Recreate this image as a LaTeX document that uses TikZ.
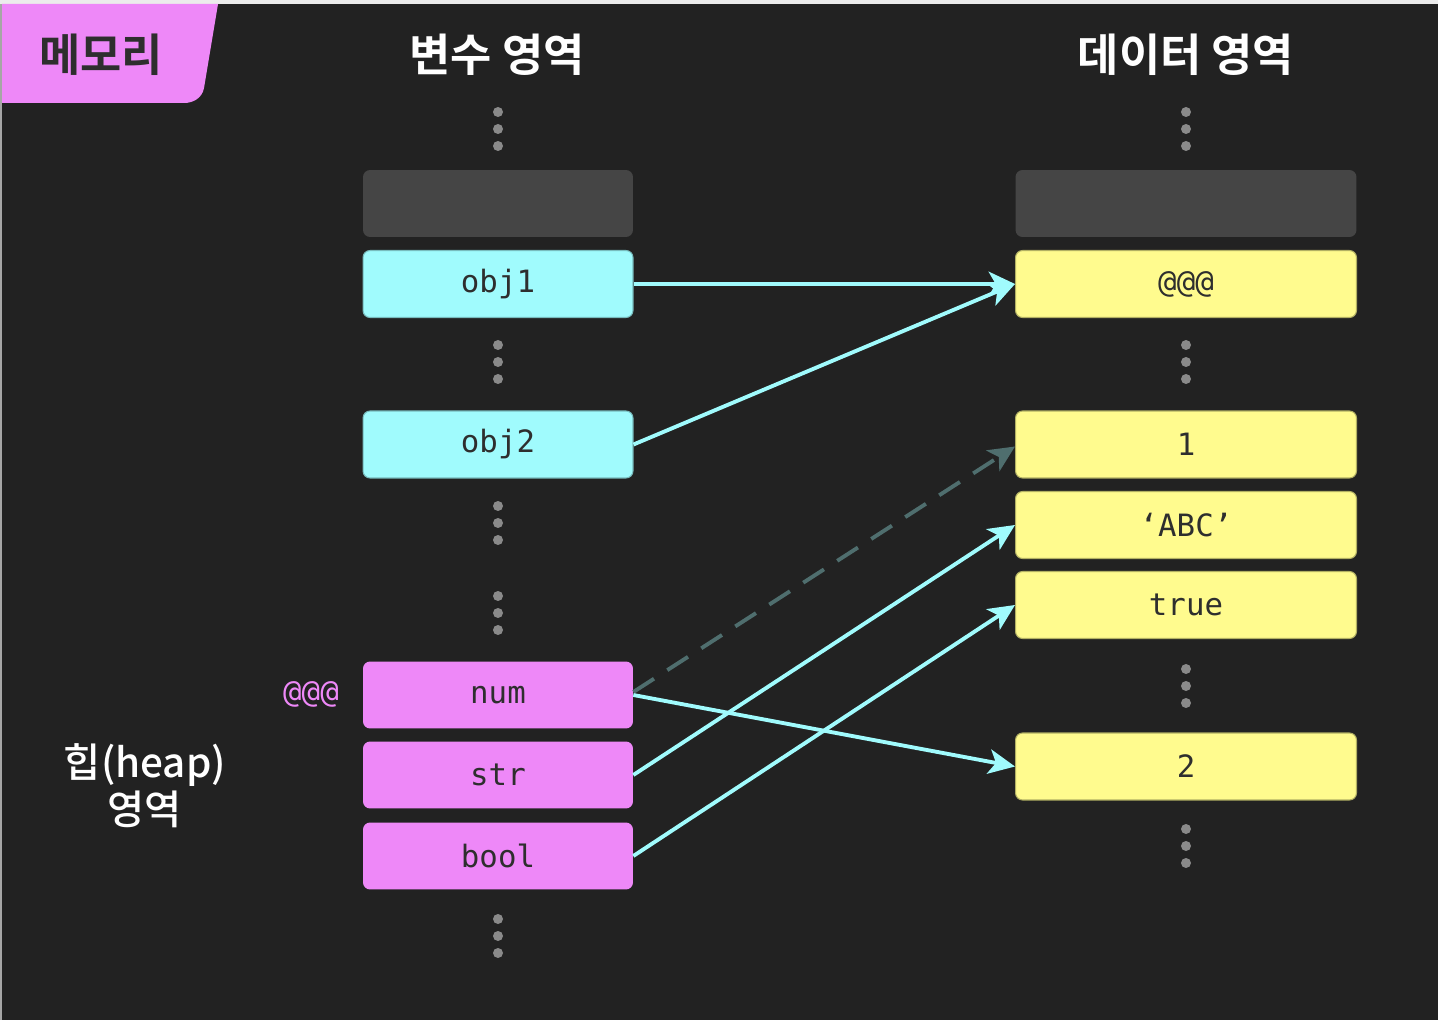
\documentclass[tikz,border=0pt]{standalone}
\usepackage{fontspec}
\setmonofont{DejaVu Sans Mono}
\newfontfamily\krfont{Noto Sans CJK KR Medium}
\newfontfamily\krbold{Noto Sans CJK KR Bold}
\usetikzlibrary{arrows.meta,positioning,calc}
\definecolor{BgDark}{HTML}{222222}
\definecolor{SlotGray}{HTML}{454545}
\definecolor{VarCyan}{HTML}{A0FBFD}
\definecolor{HeapPink}{HTML}{EE88F8}
\definecolor{DataYellow}{HTML}{FFFB8E}
\definecolor{DotGray}{HTML}{8A8A8A}
\definecolor{TextDark}{HTML}{2E2E2E}
\definecolor{GhostTeal}{HTML}{4F6E6E}
\newcommand{\memdots}[2]{%
  \fill[DotGray] (#1,#2-17) circle (5) (#1,#2) circle (5) (#1,#2+17) circle (5);}

\begin{document}
\begin{tikzpicture}[x=0.02cm,y=-0.02cm,>={Stealth[length=15pt,width=14pt,inset=4pt]},
  cell/.style={rounded corners=4pt,minimum height=1.34cm,inner sep=0pt,font=\ttfamily\fontsize{17.5}{17.5}\selectfont,text=TextDark},
  varcell/.style={cell,minimum width=5.4cm},
  datacell/.style={cell,minimum width=6.82cm,fill=DataYellow,draw=DataYellow!70!black,line width=0.6pt},
  link/.style={->,draw=VarCyan,line width=2.2pt},
  heading/.style={text=white,font=\krbold\fontsize{25.5}{30}\selectfont}]
% background and frame
\fill[BgDark] (0,0) rectangle (1438,1020);
\fill[gray!15] (0,0) rectangle (1438,4);
\fill[gray!70] (0,4) rectangle (2,1020);
% memory tab
\fill[HeapPink] (2,4) -- (218,4) -- (204,88) to[out=-100,in=0] (184,103) -- (2,103) -- cycle;
\node[text=TextDark,font=\krbold\fontsize{25.5}{30}\selectfont] (tab) at (101,55) {메모리};
% column headings
\node[heading] (varhead) at (497,55) {변수 영역};
\node[heading] (datahead) at (1186,55) {데이터 영역};
% variable area
\node[varcell,fill=SlotGray] (vslot) at (498,203.5) {};
\node[varcell,fill=VarCyan,draw=VarCyan!75!black,line width=0.6pt] (obj1) at (498,284) {obj1};
\node[varcell,fill=VarCyan,draw=VarCyan!75!black,line width=0.6pt] (obj2) at (498,444.5) {obj2};
\node[varcell,fill=HeapPink] (num) at (498,695) {num};
\node[varcell,fill=HeapPink] (str) at (498,775) {str};
\node[varcell,fill=HeapPink] (bool) at (498,856) {bool};
\node[text=HeapPink,font=\ttfamily\fontsize{17.5}{17.5}\selectfont] (addr) at (311,694) {@@@};
\node[text=white,align=center,font=\krfont\fontsize{23}{26.5}\selectfont] (heap) at (145,786) {힙(heap)\\영역};
% data area
\node[datacell,fill=SlotGray,draw=none] (dslot) at (1186,203.5) {};
\node[datacell] (obj) at (1186,284) {@@@};
\node[datacell] (one) at (1186,444.5) {1};
\node[datacell] (abc) at (1186,525) {‘ABC’};
\node[datacell] (tru) at (1186,605) {true};
\node[datacell] (two) at (1186,766.5) {2};
% dots
\memdots{498}{129}
\memdots{498}{362}
\memdots{498}{523}
\memdots{498}{613}
\memdots{498}{936}
\memdots{1186}{129}
\memdots{1186}{362}
\memdots{1186}{686}
\memdots{1186}{846}
% references
\draw[link] (obj1.east) -- (obj.west);
\draw[link] (obj2.east) -- (obj.west);
\draw[->,draw=GhostTeal,line width=2.2pt,dash pattern=on 14pt off 9pt] ($(num.east)+(0,-3)$) -- ($(one.west)+(0,2)$);
\draw[link] (num.east) -- (two.west);
\draw[link] (str.east) -- (abc.west);
\draw[link] (bool.east) -- (tru.west);
\end{tikzpicture}
\end{document}
